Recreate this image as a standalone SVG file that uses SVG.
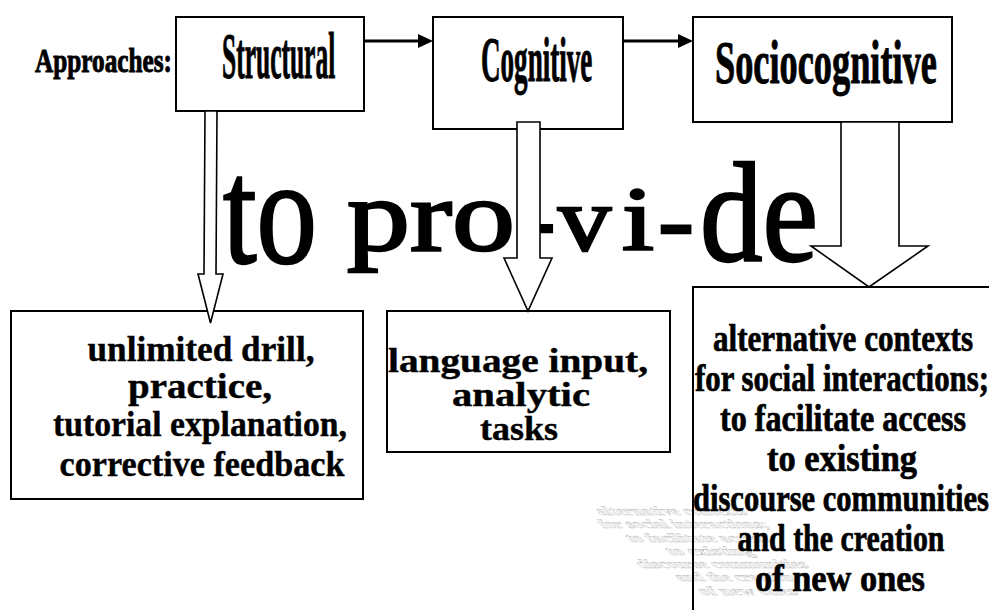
<svg xmlns="http://www.w3.org/2000/svg" xmlns:xlink="http://www.w3.org/1999/xlink" width="989" height="610" viewBox="0 0 989 610">
  <style>
    .box { fill: #fff; stroke: #000; stroke-width: 2; }
    .open { fill: none; stroke: #000; stroke-width: 2; }
    .blk { fill: #fff; stroke: #000; stroke-width: 1.6; stroke-linejoin: miter; }
    .serif { font-family: "Liberation Serif", "Times New Roman", serif; font-weight: bold; }
    .label { stroke: #000; stroke-width: 1; }
    .big { font-family: "Liberation Serif", "Times New Roman", serif; font-weight: normal; fill: #000; stroke: #000; stroke-width: 2.4; }
    .link { stroke: #000; stroke-width: 3; fill: none; marker-end: url(#head); }
    .ghost { fill: #fff; stroke: #c0c0c0; stroke-width: 1.3; }
  </style>
  <defs>
    <marker id="head" markerUnits="userSpaceOnUse" markerWidth="15" markerHeight="14" refX="0" refY="7" orient="auto">
      <path d="M0,0 L15,7 L0,14 z" fill="#000"/>
    </marker>
    <!-- text block of the sociocognitive outcome, drawn once solid and once as a slanted shadow -->
    <g id="socioLines" class="serif" font-size="38" text-anchor="middle">
      <text x="843" y="351" textLength="260" lengthAdjust="spacingAndGlyphs">alternative contexts</text>
      <text x="842" y="391" textLength="294" lengthAdjust="spacingAndGlyphs">for social interactions;</text>
      <text x="843" y="431" textLength="246" lengthAdjust="spacingAndGlyphs">to facilitate access</text>
      <text x="842" y="471" textLength="150" lengthAdjust="spacingAndGlyphs">to existing</text>
      <text x="841" y="511" textLength="296" lengthAdjust="spacingAndGlyphs">discourse communities</text>
      <text x="841" y="551" textLength="207" lengthAdjust="spacingAndGlyphs">and the creation</text>
      <text x="840" y="591" textLength="170" lengthAdjust="spacingAndGlyphs">of new ones</text>
    </g>
  </defs>

  <rect width="989" height="610" fill="#fff"/>

  <!-- caption on the left of the top row -->
  <text class="serif label" x="35" y="72" font-size="34" stroke-width="0.6" textLength="137" lengthAdjust="spacingAndGlyphs">Approaches:</text>

  <!-- slanted shadow of the sociocognitive text -->
  <g id="socio-shadow">
    <use xlink:href="#socioLines" class="ghost" transform="matrix(0.57,0,0.325,0.333,80,398)"/>
  </g>

  <!-- top row: the three approaches (condensed bold labels) -->
  <g id="structural">
    <rect class="box" x="176" y="17" width="188" height="94"/>
    <text class="serif label" transform="translate(222,78) scale(0.392,1)" font-size="65">Structural</text>
  </g>
  <g id="cognitive">
    <rect class="box" x="433" y="17" width="190" height="112"/>
    <text class="serif label" transform="translate(481,81) scale(0.43,1)" font-size="63">Cognitive</text>
  </g>
  <g id="sociocognitive">
    <rect class="box" x="693" y="17" width="259" height="105"/>
    <text class="serif label" transform="translate(715,83) scale(0.586,1)" font-size="62">Sociocognitive</text>
  </g>

  <!-- bottom row: what each approach provides -->
  <g id="structural-outcome">
    <rect class="box" x="11" y="311" width="352" height="188"/>
    <g class="serif" font-size="35" text-anchor="middle" stroke="#000" stroke-width="0.4">
      <text x="201" y="361" textLength="227" lengthAdjust="spacingAndGlyphs">unlimited drill,</text>
      <text x="200" y="398" textLength="144" lengthAdjust="spacingAndGlyphs">practice,</text>
      <text x="200" y="436" textLength="294" lengthAdjust="spacingAndGlyphs">tutorial explanation,</text>
      <text x="202" y="476" textLength="285" lengthAdjust="spacingAndGlyphs">corrective feedback</text>
    </g>
  </g>
  <g id="cognitive-outcome">
    <rect class="box" x="387" y="311" width="283" height="141"/>
    <g class="serif" font-size="33" text-anchor="middle" stroke="#000" stroke-width="0.4">
      <text x="518" y="372" textLength="260" lengthAdjust="spacingAndGlyphs">language input,</text>
      <text x="521" y="406" textLength="138" lengthAdjust="spacingAndGlyphs">analytic</text>
      <text x="519" y="440" textLength="78" lengthAdjust="spacingAndGlyphs">tasks</text>
    </g>
  </g>
  <g id="sociocognitive-outcome">
    <rect class="open" x="693" y="287" width="320" height="340"/>
    <use xlink:href="#socioLines" fill="#000" stroke="#000" stroke-width="0.7"/>
  </g>

  <!-- large heading, taller at both ends than in the middle -->
  <g id="heading" class="big">
    <text x="223" y="263" font-size="150" textLength="94" lengthAdjust="spacingAndGlyphs">to</text>
    <text x="347" y="250" font-size="102" textLength="168" lengthAdjust="spacingAndGlyphs">pro</text>
    <text x="527" y="250" font-size="90" textLength="28" lengthAdjust="spacingAndGlyphs">-</text>
    <text x="558" y="250" font-size="90" textLength="53" lengthAdjust="spacingAndGlyphs">v</text>
    <text x="622" y="250" font-size="90" textLength="32" lengthAdjust="spacingAndGlyphs">i</text>
    <text x="658" y="252" font-size="98" textLength="36" lengthAdjust="spacingAndGlyphs">-</text>
    <text x="700" y="261" font-size="142" textLength="118" lengthAdjust="spacingAndGlyphs">de</text>
  </g>

  <!-- connectors -->
  <g id="connectors">
    <line class="link" x1="364" y1="41" x2="418" y2="41"/>
    <line class="link" x1="623" y1="41" x2="678" y2="41"/>
    <polygon class="blk" points="205,111 217,111 216,274 223,274 210.5,323 198,274 204,274"/>
    <polygon class="blk" points="517,122 540,122 540,258 552,258 528,311 504,258 517,258"/>
    <polygon class="blk" points="841,122 899,122 899,246 928,246 869,287 811,246 841,246"/>
  </g>
</svg>
